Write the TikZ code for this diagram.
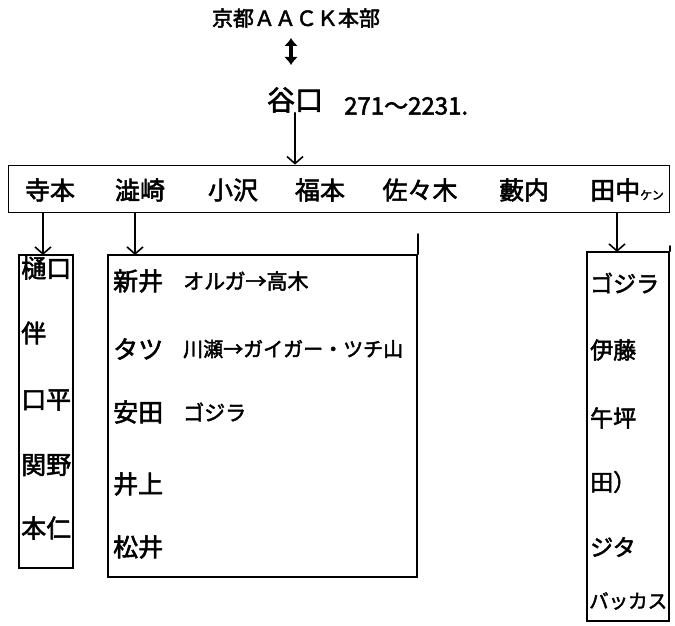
\documentclass[tikz,border=0pt]{standalone}
\usepackage{fontspec}
\newfontfamily\jp[BoldFont={Noto Sans CJK JP}, BoldFeatures={FakeBold=2.2}]{Noto Sans CJK JP}
\usetikzlibrary{arrows.meta}
\tikzset{
  ln/.style={line width=1.8pt, line cap=round},
  arr/.style={ln, -{Straight Barb[length=7pt,width=16pt,line width=1.6pt]}},
  box/.style={draw, line width=1.8pt, inner sep=0pt},
  txt/.style={inner sep=0pt, font=\jp\bfseries\fontsize{25}{27}\selectfont},
  item/.style={txt, anchor=west},
  small/.style={inner sep=0pt, anchor=west, font=\jp\bfseries\fontsize{20}{22}\selectfont},
}
\begin{document}
\begin{tikzpicture}[x=1pt,y=-1pt]
\useasboundingbox[fill=white] (0,0) rectangle (675,626);

% top
\node[txt, font=\jp\bfseries\fontsize{21}{23}\selectfont] (hq) at (296,18) {京都ＡＡＣＫ本部};
\node[txt, font=\jp\bfseries\fontsize{28}{30}\selectfont] (tani) at (295,100) {谷口};
\node[small, font=\jp\bfseries\fontsize{24}{26}\selectfont] (tel) at (344,106) {271〜2231.};
\draw[line width=3.4pt, {Latex[length=8pt,width=14pt]}-{Latex[length=8pt,width=14pt]}] (291,38) -- (291,65);

% main bar
\node[box, minimum width=661pt, minimum height=47pt] (bar) at (339,189) {};
\draw[arr] (tani.south) -- (tani.south |- bar.north);
\node[txt] (n1) at (50,190) {寺本};
\node[txt] (n2) at (140,190) {澁崎};
\node[txt] (n3) at (233,190) {小沢};
\node[txt] (n4) at (320,190) {福本};
\node[txt] (n5) at (420,190) {佐々木};
\node[txt] (n6) at (524,190) {藪内};
\node[txt, anchor=west] (n7) at (590,190) {田中{\fontsize{12}{13}\selectfont ケン}};

% left box
\node[box, minimum width=54pt, minimum height=313pt] (lb) at (46,411.5) {};
\coordinate (la) at (43,255);
\draw[arr] (la |- bar.south) -- (la);
\node[item] (l1) at (21,268) {樋口};
\node[item] (l2) at (21,333) {伴};
\node[item] (l3) at (21,400) {口平};
\node[item] (l4) at (21,465) {関野};
\node[item] (l5) at (21,528) {本仁};

% middle box
\node[box, minimum width=309pt, minimum height=322pt] (mb) at (262.5,416) {};
\draw[ln] (mb.north east) -- ++(0,-20);
\coordinate (ma) at (135,255);
\draw[arr] (ma |- bar.south) -- (ma);
\node[item] (m1) at (113,281) {新井};
\node[item] (m2) at (113,349) {タツ};
\node[item] (m3) at (113,412) {安田};
\node[item] (m4) at (113,484) {井上};
\node[item] (m5) at (113,547) {松井};
\node[small, font=\jp\bfseries\fontsize{21}{23}\selectfont] (m1b) at (183,281) {オルガ→高木};
\node[small] (m2b) at (183,349) {川瀬→ガイガー・ツチ山};
\node[small, font=\jp\bfseries\fontsize{21}{23}\selectfont] (m3b) at (183,412) {ゴジラ};

% right box
\node[box, minimum width=82pt, minimum height=369pt] (rb) at (628,436.5) {};
\draw[ln] (rb.north east) -- ++(0,-5);
\coordinate (ra) at (617,252);
\draw[arr] (ra |- bar.south) -- (ra);
\node[item, font=\jp\bfseries\fontsize{23}{25}\selectfont] (r1) at (590,283) {ゴジラ};
\node[item, font=\jp\bfseries\fontsize{23}{25}\selectfont] (r2) at (590,350) {伊藤};
\node[item, font=\jp\bfseries\fontsize{23}{25}\selectfont] (r3) at (590,418) {午坪};
\node[item, font=\jp\bfseries\fontsize{23}{25}\selectfont] (r4) at (590,482) {田）};
\node[item, font=\jp\bfseries\fontsize{23}{25}\selectfont] (r5) at (590,547) {ジタ};
\node[item, font=\jp\bfseries\fontsize{19.5}{21}\selectfont] (r6) at (589,601) {バッカス};
\end{tikzpicture}
\end{document}
